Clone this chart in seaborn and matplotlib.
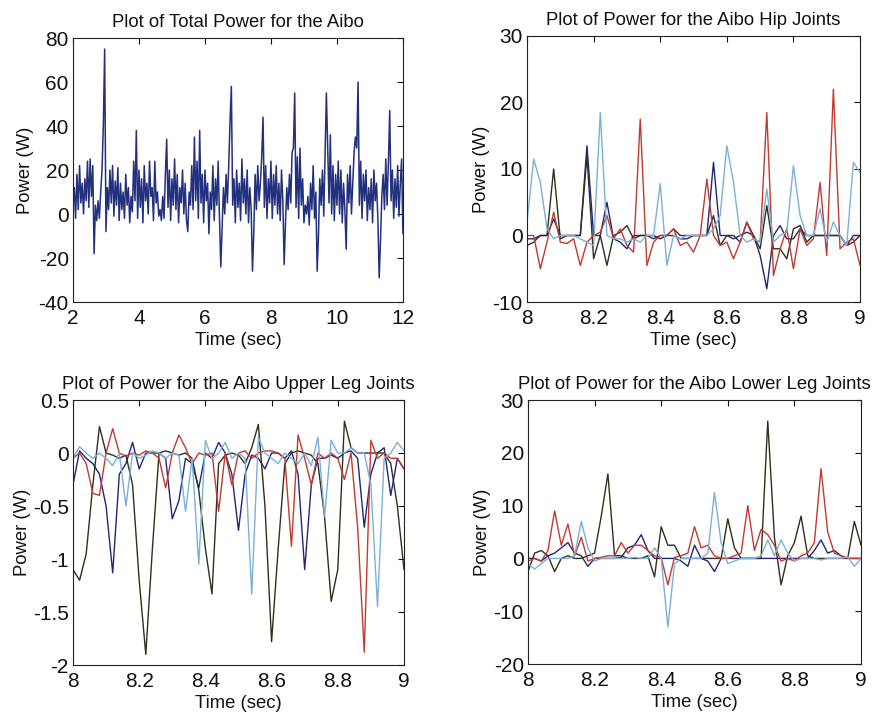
import numpy as np
import pandas as pd
import matplotlib
matplotlib.use("Agg")
import matplotlib.pyplot as plt
import seaborn as sns

# ---- Total power, 2-12 s sampled every 0.04 s ----
total_t0, total_dt = 2.0, 0.04
total_power = [
    3, 12, -2, 18, 2, 22, 5, 14, 0, 16, 6, 24, 3, 25, 8, 22, -18, 4, -3, 6, -2, 10, 20, 40, 75,
    -8, 12, 2, 20, 5, 22, -1, 15, 4, 21, -3, 14, 2, 10, -2, 18, 4, 12, -4, 8, 1, 24, 6, 38, -2,
    20, 3, 16, -4, 22, 6, 14, 0, 24, 8, 12, -3, 24, 5, 10, -1, 2, -3, 8, -2, 18, 34, 3, 20, -3,
    16, 4, 25, 2, 18, -4, 12, 5, 20, 0, 14, -3, -8, 10, 4, 22, 2, 35, 6, 24, -2, 38, 5, 18, -4,
    20, 6, 14, -9, 10, 2, 22, -3, 16, 4, 24, -2, -24, -6, 12, 0, 18, 5, 22, 42, 58, 4, 16, -4, 20,
    3, 14, -3, 25, 5, 16, 0, 20, -4, 12, 2, -26, -8, 18, 2, 22, 6, 14, 26, 44, 3, 22, -2, 16, 5,
    24, -2, 18, 4, 22, 0, 14, -3, 20, 6, -23, -4, 12, 2, 18, 5, 28, 30, 55, 3, 26, -2, 30, 4, 16,
    -4, 4, 0, 8, -5, 14, 2, 22, -2, 10, -26, -10, 16, 4, 20, -1, 28, 55, 30, 5, 36, 0, 22, -3, 18,
    4, 24, 0, 20, -4, 14, 2, -16, 18, 5, 22, 0, 14, 28, 35, 30, 60, 4, 24, -2, 18, 6, 20, -3, 12,
    2, 16, -4, 20, 6, 14, -2, -29, -12, 8, 18, 2, 25, 4, 24, 47, 6, 20, -2, 16, 3, 22, -1, 14, 25,
    -9,
]

# ---- Joint power, 8-9 s sampled every 0.02 s ----
joint_t0, joint_dt = 8.0, 0.02
joint_names = ["Leg 1", "Leg 2", "Leg 3", "Leg 4"]
joint_colors = ["#1f2878", "#2f2f1c", "#c23a2f", "#7bb0d8"]

hip_leg1 = [-0.5, -0.5, 0, 0, 2.5, 0, 0, 0, 0, 13.5, 0, 0, 5, -0.5, -1, -2, 0, 0, 0, -0.5, 0, 0, 0, -0.5, -0.5, 0,
            0, 0, 11, 0, 0, -0.5, 0, 0.5, 0, -3, -8, 0, 1.5, -0.5, -0.5, 1, 0, 0, 0, 0, 0, 0, -1.5, 0, 0]
hip_leg2 = [-1.5, -1, 0, 0, 10, -0.5, 0, 0, 0, 12, -3.5, 0, -4.5, 0, 0.5, 1.5, -0.5, 0, 0, 0, -0.5, 0, 1, 0, 0, 0,
            0, 0, 3, -1.5, 0, 0, -1, 2, 0, -2, 4.5, -2, -2, -3.5, 1, 1.5, -1, 0, 0, 0, 0, 0, -1.5, -1, 0]
hip_leg3 = [0, 0, -5, -1, 3.5, -1, -1.2, -0.5, -4.5, -1, 0, 0.5, 3, -0.5, 1, -1.5, -2.5, 17.5, -4.5, -1, 0, 0, 1,
            -1.5, -1, -2.5, 0, 8.5, 0, -1.5, -1, -3.5, -1, 2, -0.5, -1, 18.5, -6, -2, 1, -5, 1, -1.5, -0.5, 8, -3,
            22, -2, -1, -0.5, -4.5]
hip_leg4 = [2, 11.5, 8, 1, -0.5, 0, 0, 0, -0.5, -1, -1.5, 18.5, 0, -0.5, -0.5, -1, -0.5, -1, 0, 0, 7.8, -4.5, 0,
            -0.5, 0, 0, 0, 0, 1, 3, 13.5, 8, 0, -1, -0.5, -1, 7, -1, 0, 0.5, 10.5, 3, 0, 0, 4, -1, 2, 0, -1.5,
            11, 9.5]

upper_leg1 = [-0.3, 0.02, -0.05, -0.1, -0.2, -0.5, -1.13, -0.2, -0.1, 0.1, -0.15, 0, 0, 0, -0.05, -0.62, -0.45,
              -0.05, -0.1, -0.33, 0, -0.05, 0.1, 0, -0.2, -0.73, -0.2, -0.02, -0.05, -0.15, 0, 0, -0.05, 0.02,
              -0.2, -1.1, -0.3, -0.05, -0.05, -0.02, -0.05, 0, 0.02, -0.05, -0.7, -0.2, 0, 0.05, -0.4, -0.05, -0.15]
upper_leg2 = [-1.1, -1.2, -0.95, -0.3, 0.25, 0, -0.02, -0.05, -0.02, -0.3, -1.2, -1.9, -0.9, 0, 0.02, 0, -0.02, 0,
              -0.05, -0.35, -0.9, -1.33, -0.1, -0.02, 0, -0.02, -0.1, 0.05, 0.27, -0.5, -1.78, -0.9, -0.1, 0, 0.02,
              0, -0.02, -0.1, -0.6, -1.4, -1.1, 0.3, 0.05, 0, 0, 0, 0, 0, -0.1, -0.5, -1.1]
upper_leg3 = [-0.05, 0, -0.1, -0.38, -0.4, 0, 0.23, 0, -0.03, 0, -0.02, 0.02, 0, -0.05, -0.33, 0, 0.17, 0.05, -0.1,
              0, -0.02, 0, -0.55, 0, -0.3, 0, 0.02, -0.05, 0, 0.02, 0.02, 0, -0.05, -0.88, 0.17, -0.05, -0.3, 0,
              -0.05, 0, -0.05, -0.25, 0, -0.7, -1.88, 0.12, -0.05, 0, -0.05, -0.05, -0.15]
upper_leg4 = [-0.05, 0.06, 0, -0.05, 0, -0.05, -0.12, 0, -0.5, 0, -0.05, -0.02, 0.02, 0, -0.05, 0, -0.02, -0.55,
              -0.05, -1.05, 0.12, -0.05, 0, 0.1, -0.05, 0, -0.05, -1.33, 0.15, 0, -0.05, -0.1, 0, -0.05, -0.1, 0,
              -0.12, 0.15, -0.6, 0.12, 0, 0, 0.05, 0, 0, -0.3, -1.45, -0.05, 0, 0.1, 0.02]

lower_leg1 = [0, 0, -0.5, 0.5, 1, 2, 3, 1, 0.5, -1.5, 0, 0, 0, 0, 0.2, 2, 2.5, 4.5, 1.5, 0, 0, 0, 0, -0.5, -1.5,
              2.5, 0, -0.5, -2.5, 0, 0, 0, 0, 0, 0, 0, 0, 0, 0, 0, 0, 0, 0, 1.5, 3.5, 1, 1.5, 0.5, 0, 0, 0]
lower_leg2 = [-2.5, 1, 1.5, 0.5, -2.5, 0, 0.5, 0, 0, 0.5, 1, 8, 16, 0.5, 0.5, 0, 0, 0, 0.5, -3.5, 6, 2.5, 2.5, 0,
              0, 0, 0, 0, 0, 0, 7.5, 2, 0, 0, 0, 0, 26, 4, -5, 0.5, 3, 8, 0.5, 0, 0, 0, 0, 0, 0, 7, 2.5]
lower_leg3 = [-0.5, 0, -0.5, 1.5, 9, 2.5, 6.5, 0.5, 4, -0.5, 0, 0.2, 0.5, 0.5, 3, 1, 2.5, 2.5, 1.5, 0.5, 0.2, -5,
              0.2, 0.5, 1, 6, 2, 2.5, 0.5, 0, 0, 0.5, 1, 10, 1.5, 5.5, 4.5, 2.5, -0.5, 0, -0.5, 0.5, 1, 3, 17, 5,
              1, 0.5, 0, 0, 0]
lower_leg4 = [-1, -2, -1, 0, 0, 0, 0, 0.5, 7, 2, -0.5, 0, 0, 0, 0, 0, 0.2, 0, 0, 2, 0, -13, -1, 0, 0, 0, 0, 1,
              12.5, 3, -1, -0.5, 0, 0, 0, 0.5, 3.5, 0.5, 3.5, 1, -0.5, 0, 0, 0, -0.3, 0, 0, 0, 0.3, -1.5, 0]


def joint_frame(series):
    rows = []
    for name, vals in zip(joint_names, series):
        t = joint_t0 + joint_dt * np.arange(len(vals))
        rows.append(pd.DataFrame({"Time": t, "Power": vals, "Leg": name}))
    return pd.concat(rows, ignore_index=True)


sns.set_theme(style="white")
plt.rcParams["font.family"] = ["Liberation Sans", "DejaVu Sans"]
plt.rcParams["axes.linewidth"] = 0.8

fig = plt.figure(figsize=(8.75, 7.17), dpi=100)
ax_tl = fig.add_axes([0.0834, 0.5788, 0.3771, 0.3682])
ax_tr = fig.add_axes([0.6023, 0.5788, 0.3806, 0.3710])
ax_bl = fig.add_axes([0.0834, 0.0725, 0.3783, 0.3696])
ax_br = fig.add_axes([0.6034, 0.0739, 0.3806, 0.3682])

# Total power
tot = pd.DataFrame({"Time": total_t0 + total_dt * np.arange(len(total_power)), "Power": total_power})
sns.lineplot(data=tot, x="Time", y="Power", ax=ax_tl, color="#22307e", lw=1.1,
             estimator=None, sort=False)


def joint_panel(ax, series):
    df = joint_frame(series)
    sns.lineplot(data=df, x="Time", y="Power", hue="Leg", palette=joint_colors, ax=ax,
                 lw=1.0, estimator=None, sort=False, legend=False)


joint_panel(ax_tr, [hip_leg1, hip_leg2, hip_leg3, hip_leg4])
joint_panel(ax_bl, [upper_leg1, upper_leg2, upper_leg3, upper_leg4])
joint_panel(ax_br, [lower_leg1, lower_leg2, lower_leg3, lower_leg4])

panels = [
    (ax_tl, "Plot of Total Power for the Aibo", (2, 12), [2, 4, 6, 8, 10, 12], ["2", "4", "6", "8", "10", "12"],
     (-40, 80), [-40, -20, 0, 20, 40, 60, 80], ["-40", "-20", "0", "20", "40", "60", "80"], 3),
    (ax_tr, "Plot of Power for the Aibo Hip Joints", (8, 9), [8, 8.2, 8.4, 8.6, 8.8, 9],
     ["8", "8.2", "8.4", "8.6", "8.8", "9"], (-10, 30), [-10, 0, 10, 20, 30], ["-10", "0", "10", "20", "30"], 2),
    (ax_bl, "Plot of Power for the Aibo Upper Leg Joints", (8, 9), [8, 8.2, 8.4, 8.6, 8.8, 9],
     ["8", "8.2", "8.4", "8.6", "8.8", "9"], (-2, 0.5), [-2, -1.5, -1, -0.5, 0, 0.5],
     ["-2", "-1.5", "-1", "-0.5", "0", "0.5"], 1),
    (ax_br, "Plot of Power for the Aibo Lower Leg Joints", (8, 9), [8, 8.2, 8.4, 8.6, 8.8, 9],
     ["8", "8.2", "8.4", "8.6", "8.8", "9"], (-20, 30), [-20, -10, 0, 10, 20, 30],
     ["-20", "-10", "0", "10", "20", "30"], 2),
]

for ax, title, xlim, xt, xtl, ylim, yt, ytl, ypad in panels:
    ax.set_xlim(*xlim)
    ax.set_ylim(*ylim)
    ax.set_xticks(xt)
    ax.set_xticklabels(xtl, fontsize=15)
    ax.set_yticks(yt)
    ax.set_yticklabels(ytl, fontsize=15)
    ax.tick_params(axis="x", pad=5)
    ax.tick_params(axis="y", pad=3)
    ax.tick_params(direction="in", length=4, width=0.8, top=True, right=True, colors="#111111")
    for s in ax.spines.values():
        s.set_visible(True)
        s.set_color("#222222")
    ax.set_title(title, fontsize=13.3, pad=8, color="#111111")
    ax.set_xlabel("Time (sec)", fontsize=13.3, labelpad=3, color="#111111")
    ax.set_ylabel("Power (W)", fontsize=13.3, labelpad=ypad, color="#111111")
    ax.set_facecolor("white")

fig.savefig("out.png", dpi=100, facecolor="white")
